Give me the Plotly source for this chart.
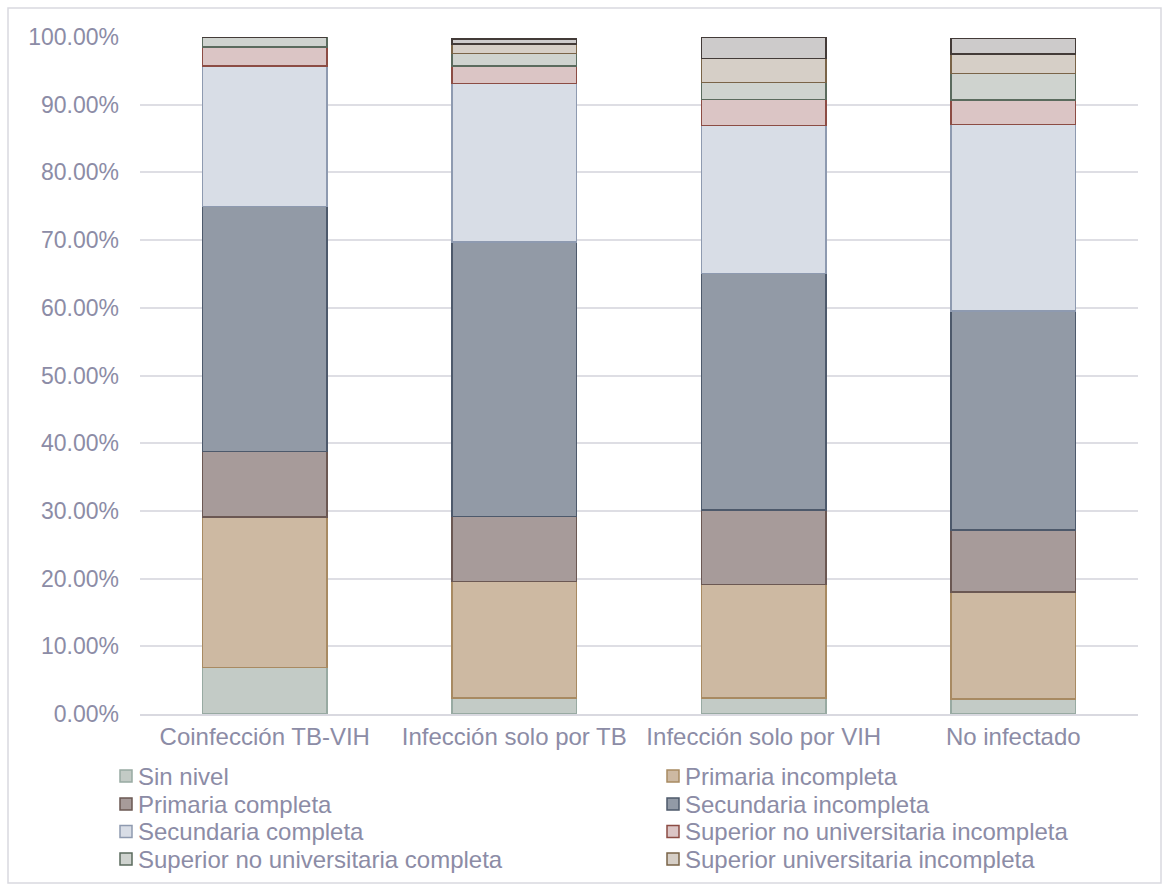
import plotly.graph_objects as go

categories = ["Coinfección TB-VIH", "Infección solo por TB", "Infección solo por VIH", "No infectado"]

sin_nivel = [0.069, 0.024, 0.024, 0.022]
primaria_incompleta = [0.222, 0.172, 0.167, 0.158]
primaria_completa = [0.097, 0.096, 0.110, 0.092]
secundaria_incompleta = [0.362, 0.405, 0.350, 0.323]
secundaria_completa = [0.207, 0.234, 0.218, 0.276]
sup_no_univ_incompleta = [0.028, 0.026, 0.039, 0.036]
sup_no_univ_completa = [0.015, 0.019, 0.025, 0.039]
sup_univ_incompleta = [0.000, 0.014, 0.035, 0.029]
sup_univ_completa = [0.000, 0.007, 0.032, 0.023]

series = [
    ("Sin nivel", sin_nivel, "#c3cbc6", "#98aaa2", True),
    ("Primaria incompleta", primaria_incompleta, "#cdb9a2", "#a88a62", True),
    ("Primaria completa", primaria_completa, "#a79b9a", "#6b5853", True),
    ("Secundaria incompleta", secundaria_incompleta, "#929aa6", "#4d596b", True),
    ("Secundaria completa", secundaria_completa, "#d8dde6", "#8e9ab0", True),
    ("Superior no universitaria incompleta", sup_no_univ_incompleta, "#dbc5c5", "#8c4c44", True),
    ("Superior no universitaria completa", sup_no_univ_completa, "#cfd3cf", "#5b6b5e", True),
    ("Superior universitaria incompleta", sup_univ_incompleta, "#d6cfc7", "#7a6448", True),
    ("Superior universitaria completa", sup_univ_completa, "#cdcbcb", "#433b38", False),
]

W, H = 1163, 884
L, R, T, B = 140, 25, 37, 170
PW, PH = W - L - R, H - T - B


def px(x):
    return (x - L) / PW


def py(y):
    return (H - B - y) / PH


fig = go.Figure()
for name, vals, fill, line, show in series:
    fig.add_trace(go.Bar(
        name=name, x=categories, y=vals,
        marker=dict(color=fill, line=dict(color=line, width=1.5)),
        showlegend=False,
    ))

font_color = "#8c8ca6"

# Legend drawn in two columns, row-wise order
shapes = [dict(
    type="rect", xref="paper", yref="paper",
    x0=px(8), x1=px(1161), y0=py(883), y1=py(8),
    line=dict(color="#d9d9e0", width=1.5), fillcolor="rgba(0,0,0,0)", layer="below",
)]
annotations = []
legend_items = [s for s in series if s[4]]
col_sym_x = [120, 667]
row_y = [776, 804, 831.5, 859]
for i, (name, _vals, fill, line, _show) in enumerate(legend_items):
    r, c = divmod(i, 2)
    sx, cy = col_sym_x[c], row_y[r]
    shapes.append(dict(
        type="rect", xref="paper", yref="paper",
        x0=px(sx), x1=px(sx + 12), y0=py(cy + 6), y1=py(cy - 6),
        line=dict(color=line, width=1.5), fillcolor=fill,
    ))
    annotations.append(dict(
        xref="paper", yref="paper", x=px(sx + 16), y=py(cy),
        xanchor="left", yanchor="middle", showarrow=False,
        text=name, font=dict(size=24, color=font_color),
    ))

fig.update_layout(
    barmode="stack",
    bargap=0.5,
    width=W, height=H,
    margin=dict(l=L, r=R, t=T, b=B, autoexpand=False),
    paper_bgcolor="white",
    plot_bgcolor="white",
    font=dict(family="Liberation Sans, Arial, sans-serif", size=23, color=font_color),
    showlegend=False,
    xaxis=dict(
        showgrid=False, showline=True, linecolor="#d9d9e0", linewidth=2,
        ticks="", tickfont=dict(size=24, color=font_color),
    ),
    yaxis=dict(
        range=[0, 1.0], dtick=0.1, tickformat=".2%",
        showgrid=True, gridcolor="#dedee4", gridwidth=1.5,
        zeroline=False, showline=False, ticks="", ticklen=0,
        ticklabelstandoff=20,
        tickfont=dict(size=23, color=font_color),
    ),
    shapes=shapes,
    annotations=annotations,
)

fig.write_html("out.html")
